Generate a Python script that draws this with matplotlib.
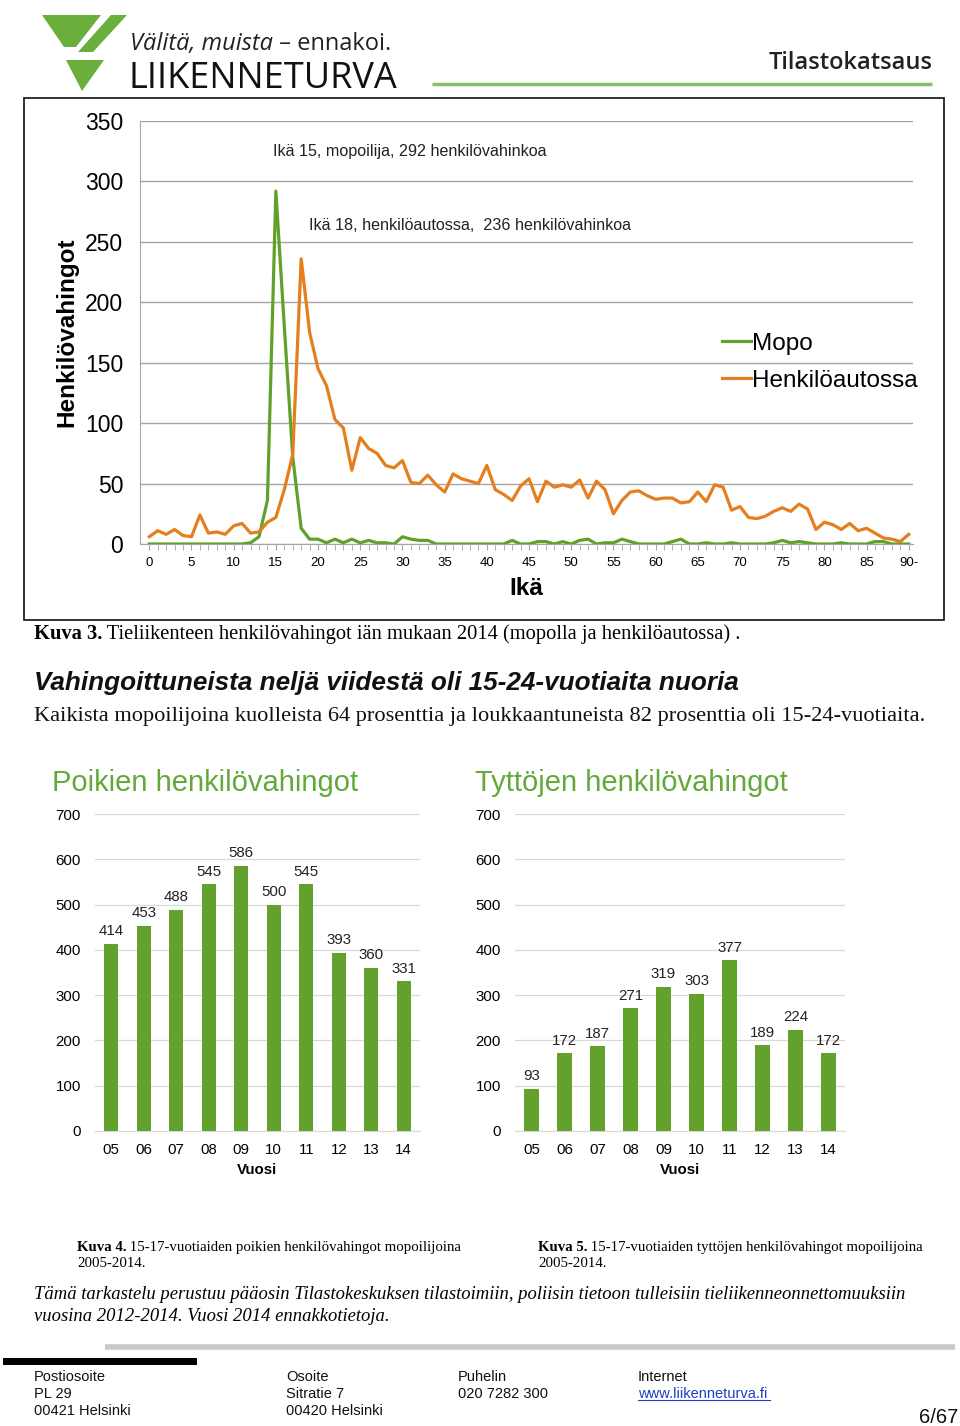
import matplotlib
matplotlib.use("Agg")
import matplotlib.pyplot as plt
from matplotlib.lines import Line2D
from matplotlib.patches import Polygon, Rectangle
import numpy as np

# ---------------- data ----------------
ages = list(range(0, 91))
mopo = [0, 0, 0, 0, 0, 0, 0, 0, 0, 0,
        0, 0, 1, 6, 36, 292, 180, 72, 13, 4,
        4, 1, 4, 1, 4, 1, 3, 1, 1, 0,
        6, 4, 3, 3, 0, 0, 0, 0, 0, 0,
        0, 0, 0, 3, 0, 0, 2, 2, 0, 2,
        0, 3, 4, 0, 1, 1, 4, 2, 0, 0,
        0, 0, 2, 4, 0, 0, 1, 0, 0, 1,
        0, 0, 0, 0, 1, 3, 1, 2, 1, 0,
        0, 0, 1, 0, 0, 0, 2, 2, 0, 0,
        0]
auto = [6, 11, 8, 12, 7, 6, 24, 9, 10, 8,
        15, 17, 9, 10, 18, 22, 45, 74, 236, 175,
        145, 131, 103, 96, 61, 88, 79, 75, 65, 63,
        69, 51, 50, 57, 49, 43, 58, 54, 52, 50,
        65, 45, 41, 36, 48, 54, 35, 52, 47, 49,
        47, 53, 38, 52, 45, 25, 36, 43, 44, 40,
        37, 38, 38, 34, 35, 43, 35, 49, 47, 28,
        31, 22, 21, 23, 27, 30, 27, 33, 29, 12,
        18, 16, 12, 17, 11, 13, 9, 5, 4, 2,
        8]
age_ticks = [0, 5, 10, 15, 20, 25, 30, 35, 40, 45, 50, 55, 60, 65, 70, 75, 80, 85, 90]
age_labels = ["0", "5", "10", "15", "20", "25", "30", "35", "40", "45", "50", "55",
              "60", "65", "70", "75", "80", "85", "90-"]
line_yticks = [0, 50, 100, 150, 200, 250, 300, 350]

years = ["05", "06", "07", "08", "09", "10", "11", "12", "13", "14"]
boys = [414, 453, 488, 545, 586, 500, 545, 393, 360, 331]
girls = [93, 172, 187, 271, 319, 303, 377, 189, 224, 172]
bar_yticks = [0, 100, 200, 300, 400, 500, 600, 700]

GREEN = "#5fa12a"
ORANGE = "#e57e1e"
BARGREEN = "#62a22c"
TITLEGREEN = "#63a93a"
GRID = "#a6a6a6"

W, H = 960, 1426
fig = plt.figure(figsize=(W / 100, H / 100), dpi=100)
fig.patch.set_facecolor("white")

SANS = ["Liberation Sans", "DejaVu Sans"]
SERIF = ["Liberation Serif", "DejaVu Serif"]
NARROW = ["Liberation Sans Narrow", "Liberation Sans", "DejaVu Sans"]


def box(x0, y0, x1, y1):
    return [x0 / W, 1 - y1 / H, (x1 - x0) / W, (y1 - y0) / H]


# overlay axes in pixel coordinates (background drawings)
bg = fig.add_axes([0, 0, 1, 1], zorder=0)
bg.set_xlim(0, W)
bg.set_ylim(H, 0)
bg.axis("off")

# ---------------- header ----------------
logo_green = "#6aae3c"
bg.add_patch(Polygon([(42, 15), (101, 15), (76, 47), (64, 47)], closed=True, color=logo_green, lw=0))
bg.add_patch(Polygon([(111, 15), (127, 15), (93, 52), (78, 52)], closed=True, color=logo_green, lw=0))
bg.add_patch(Polygon([(66, 60), (104, 60), (82, 91)], closed=True, color=logo_green, lw=0))
t1 = bg.text(130, 50, "Välitä, muista", fontsize=17, style="italic", family=["Open Sans", "DejaVu Sans"],
             color="#222222", va="baseline", ha="left")
bg.annotate(" – ennakoi.", xy=(1, 0), xycoords=t1, fontsize=17, family=["Open Sans", "DejaVu Sans"],
            color="#222222", va="bottom", ha="left")
bg.text(128, 88, "LIIKENNETURVA", fontsize=26, family=["Open Sans", "DejaVu Sans"],
        color="#111111", va="baseline", ha="left")
bg.text(933, 69, "Tilastokatsaus", fontsize=17, fontweight="semibold", family=["Open Sans", "DejaVu Sans"],
        color="#222222", va="baseline", ha="right")
bg.plot([432, 932], [84, 84], color="#8cbf6a", lw=2.5, solid_capstyle="butt")

# chart frame
bg.add_patch(Rectangle((24, 98), 920, 522, fill=False, edgecolor="#111111", lw=1.2))

# ---------------- line chart ----------------
ax = fig.add_axes(box(140, 121, 913, 544), zorder=2)
ax.patch.set_alpha(0)
ax.plot(ages, mopo, color=GREEN, lw=2.3, label="Mopo", solid_joinstyle="round")
ax.plot(ages, auto, color=ORANGE, lw=2.3, label="Henkilöautossa", solid_joinstyle="round")
ax.set_xlim(-1.1, 90.5)
ax.set_ylim(0, 350)
ax.set_yticks(line_yticks)
ax.set_yticklabels([str(v) for v in line_yticks], fontsize=16.5, family=SANS)
ax.set_xticks(age_ticks)
ax.set_xticklabels(age_labels, fontsize=9.5, family=SANS)
ax.set_xticks(ages, minor=True)
ax.tick_params(axis="y", length=0, pad=12)
ax.tick_params(axis="x", which="both", length=4, color=GRID, pad=5)
ax.grid(axis="y", color=GRID, lw=1)
ax.set_axisbelow(True)
for s in ["top", "right"]:
    ax.spines[s].set_visible(False)
ax.spines["left"].set_color(GRID)
ax.spines["bottom"].set_color(GRID)
ax.set_xlabel("Ikä", fontsize=17.5, fontweight="bold", family=SANS, labelpad=6)
ax.set_ylabel("Henkilövahingot", fontsize=17.5, fontweight="bold", family=SANS, labelpad=5)
ax.text(14.65, 324.5, "Ikä 15, mopoilija, 292 henkilövahinkoa", fontsize=11.6, family=SANS,
        color="#222222", ha="left", va="center")
ax.text(18.9, 263.5, "Ikä 18, henkilöautossa,  236 henkilövahinkoa", fontsize=11.6, family=SANS,
        color="#222222", ha="left", va="center")
ax.legend(handles=[Line2D([], [], color=GREEN, lw=2.3), Line2D([], [], color=ORANGE, lw=2.3)],
          labels=["Mopo", "Henkilöautossa"], loc="upper left",
          bbox_to_anchor=(700 / W, 1 - 311 / H), bbox_transform=fig.transFigure,
          frameon=False, handlelength=1.2, handletextpad=0.05,
          labelspacing=0.62, prop={"family": SANS, "size": 17.5})

# ---------------- texts between ----------------
c3 = bg.text(34, 639, "Kuva 3.", fontsize=14.8, fontweight="bold", family=SERIF, va="baseline", ha="left")
bg.annotate(" Tieliikenteen henkilövahingot iän mukaan 2014 (mopolla ja henkilöautossa) .",
            xy=(1, 0), xycoords=c3, fontsize=14.8, family=SERIF, va="bottom", ha="left")
bg.text(34, 690, "Vahingoittuneista neljä viidestä oli 15-24-vuotiaita nuoria", fontsize=18.8,
        fontweight="bold", style="italic", family=SANS, color="#111111", va="baseline", ha="left")
bg.text(34, 721, "Kaikista mopoilijoina kuolleista 64 prosenttia ja loukkaantuneista 82 prosenttia oli 15-24-vuotiaita.",
        fontsize=16.1, family=SERIF, color="#111111", va="baseline", ha="left")


# ---------------- bar charts ----------------
def bar_chart(rect, values, title, title_x):
    b = fig.add_axes(rect, zorder=2)
    b.patch.set_alpha(0)
    x = np.arange(len(years))
    b.bar(x, values, width=0.43, color=BARGREEN, zorder=3)
    for xi, v in zip(x, values):
        b.annotate(str(v), (xi, v), xytext=(0, 4), textcoords="offset points",
                   ha="center", va="bottom", fontsize=10.8, family=SANS, color="#222222")
    b.set_xlim(-0.5, len(years) - 0.5)
    b.set_ylim(0, 700)
    b.set_yticks(bar_yticks)
    b.set_yticklabels([str(v) for v in bar_yticks], fontsize=10.8, family=SANS)
    b.set_xticks(x)
    b.set_xticklabels(years, fontsize=10.8, family=SANS)
    b.tick_params(axis="both", length=0)
    b.tick_params(axis="y", pad=10)
    b.tick_params(axis="x", pad=9)
    b.grid(axis="y", color="#d9d9d9", lw=0.9)
    b.set_axisbelow(True)
    for s in ["top", "right", "left"]:
        b.spines[s].set_visible(False)
    b.spines["bottom"].set_color("#d9d9d9")
    b.set_xlabel("Vuosi", fontsize=10.8, fontweight="bold", family=SANS, labelpad=4)
    bg.text(title_x, 791, title, fontsize=21, color=TITLEGREEN, family=SANS, va="baseline", ha="left")
    return b


bar_chart(box(95, 814, 420, 1131), boys, "Poikien henkilövahingot", 52)
bar_chart(box(515, 814, 845, 1131), girls, "Tyttöjen henkilövahingot", 475)

# captions
k4 = bg.text(77, 1251, "Kuva 4.", fontsize=10.75, fontweight="bold", family=SERIF, va="baseline", ha="left")
bg.annotate(" 15-17-vuotiaiden poikien henkilövahingot mopoilijoina", xy=(1, 0), xycoords=k4,
            fontsize=10.75, family=SERIF, va="bottom", ha="left")
bg.text(77, 1267, "2005-2014.", fontsize=10.75, family=SERIF, va="baseline", ha="left")
k5 = bg.text(538, 1251, "Kuva 5.", fontsize=10.75, fontweight="bold", family=SERIF, va="baseline", ha="left")
bg.annotate(" 15-17-vuotiaiden tyttöjen henkilövahingot mopoilijoina", xy=(1, 0), xycoords=k5,
            fontsize=10.75, family=SERIF, va="bottom", ha="left")
bg.text(538, 1267, "2005-2014.", fontsize=10.75, family=SERIF, va="baseline", ha="left")

bg.text(34, 1299, "Tämä tarkastelu perustuu pääosin Tilastokeskuksen tilastoimiin, poliisin tietoon tulleisiin tieliikenneonnettomuuksiin",
        fontsize=13.4, style="italic", family=SERIF, va="baseline", ha="left")
bg.text(34, 1321, "vuosina 2012-2014. Vuosi 2014 ennakkotietoja.",
        fontsize=13.4, style="italic", family=SERIF, va="baseline", ha="left")

# ---------------- footer ----------------
bg.plot([105, 955], [1347, 1347], color="#c9c9c9", lw=4, solid_capstyle="butt")
bg.add_patch(Rectangle((3, 1358), 194, 7, color="#000000", lw=0))
cols = [
    (34, ["Postiosoite", "PL 29", "00421 Helsinki"]),
    (286, ["Osoite", "Sitratie 7", "00420 Helsinki"]),
    (458, ["Puhelin", "020 7282 300"]),
    (638, ["Internet"]),
]
for cx, lines in cols:
    for i, s in enumerate(lines):
        bg.text(cx, 1381 + i * 17, s, fontsize=10.5, family=NARROW, va="baseline", ha="left", color="#111111")
url = bg.text(638, 1398, "www.liikenneturva.fi", fontsize=10.5, family=NARROW, va="baseline", ha="left",
              color="#1f3fbf")
bg.plot([638, 770], [1400, 1400], color="#1f3fbf", lw=0.8)
bg.text(958, 1423, "6/67", fontsize=14.5, family=NARROW, va="baseline", ha="right", color="#111111")

fig.savefig("out.png", dpi=100)
